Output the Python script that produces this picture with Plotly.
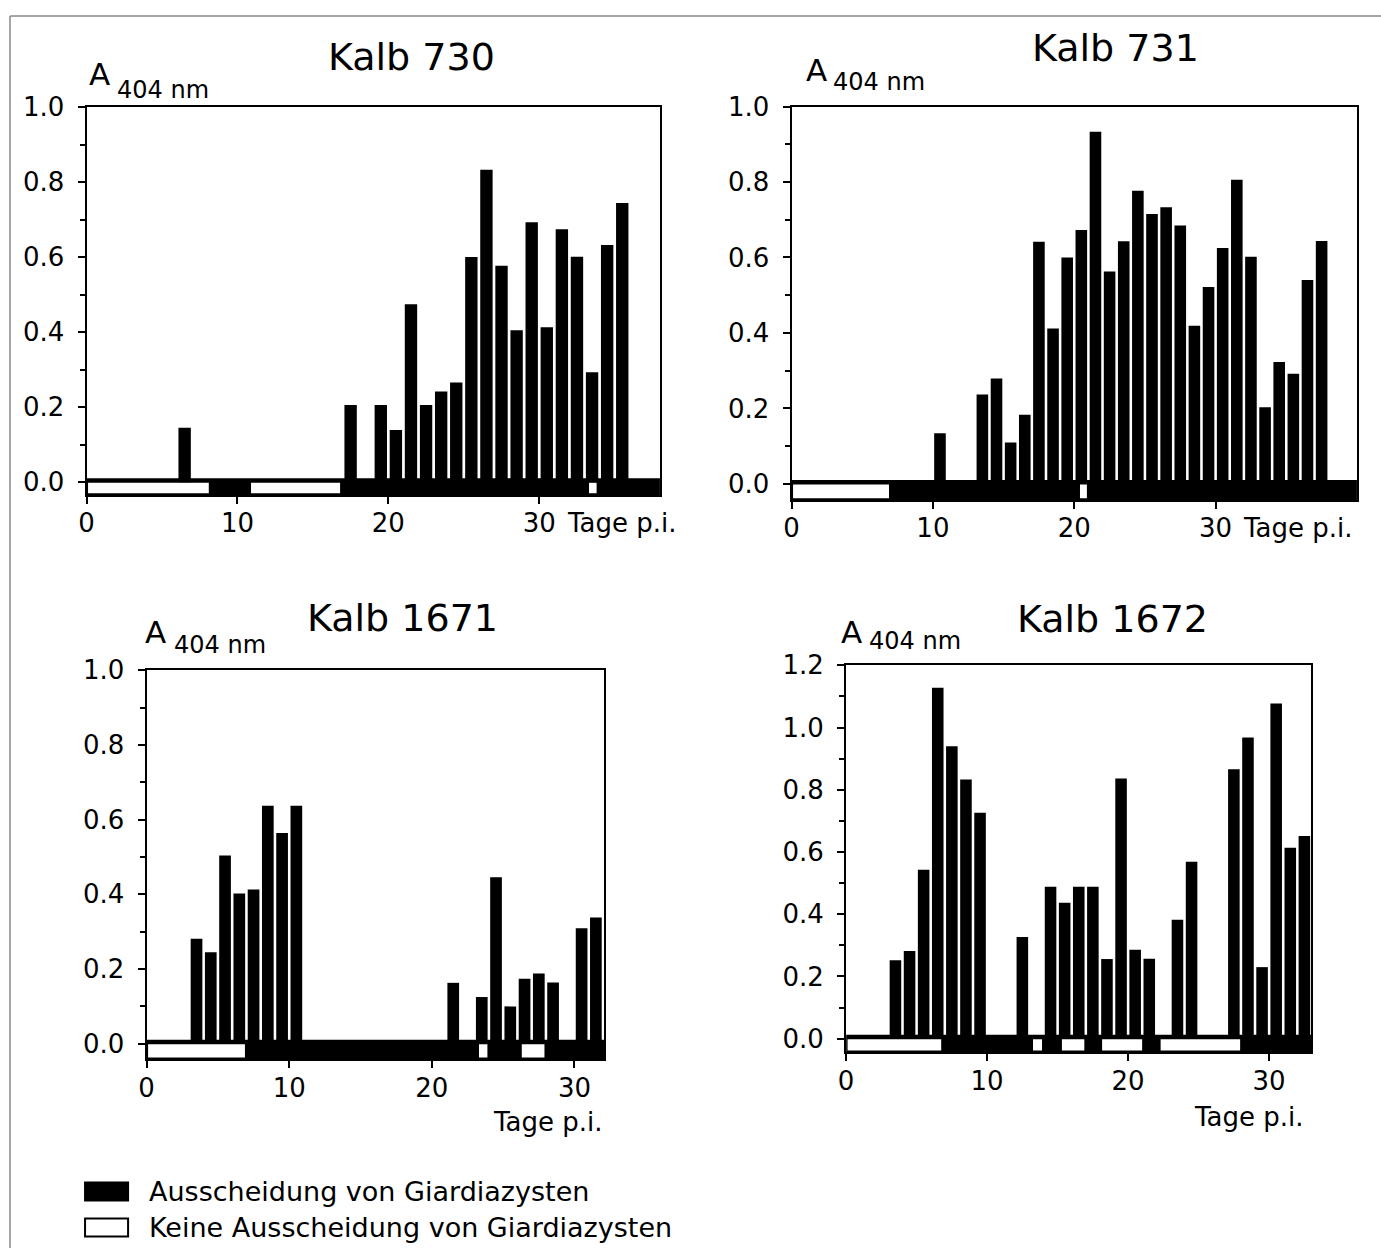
import numpy as np
import plotly.graph_objects as go

W, H = 1381, 1250
FONT = "DejaVu Sans"

# ---------------- data ----------------
titles = ["Kalb 730", "Kalb 731", "Kalb 1671", "Kalb 1672"]

k730_days = [7, 18, 20, 21, 22, 23, 24, 25, 26, 27, 28, 29, 30, 31, 32, 33, 34, 35, 36]
k730_vals = [0.145, 0.206, 0.206, 0.139, 0.474, 0.206, 0.242, 0.266, 0.600, 0.833,
             0.577, 0.405, 0.693, 0.413, 0.674, 0.601, 0.293, 0.632, 0.744]
k730_no_shedding = [(0, 8.2), (10.8, 16.9), (33.2, 33.9)]

k731_days = [11, 14, 15, 16, 17, 18, 19, 20, 21, 22, 23, 24, 25, 26, 27, 28, 29, 30,
             31, 32, 33, 34, 35, 36, 37, 38]
k731_vals = [0.134, 0.237, 0.279, 0.110, 0.183, 0.642, 0.412, 0.600, 0.673, 0.933,
             0.563, 0.643, 0.777, 0.715, 0.733, 0.685, 0.419, 0.522, 0.625, 0.806,
             0.602, 0.203, 0.323, 0.292, 0.540, 0.644]
k731_no_shedding = [(0, 7.0), (20.3, 21.0)]

k1671_days = [4, 5, 6, 7, 8, 9, 10, 11, 22, 24, 25, 26, 27, 28, 29, 31, 32]
k1671_vals = [0.281, 0.245, 0.504, 0.402, 0.413, 0.637, 0.564, 0.637, 0.163, 0.125,
              0.446, 0.100, 0.174, 0.188, 0.164, 0.309, 0.338]
k1671_no_shedding = [(0, 7.0), (23.2, 24.0), (26.2, 28.0)]

k1672_days = [4, 5, 6, 7, 8, 9, 10, 13, 15, 16, 17, 18, 19, 20, 21, 22, 24, 25, 28,
              29, 30, 31, 32, 33]
k1672_vals = [0.252, 0.282, 0.543, 1.128, 0.940, 0.833, 0.726, 0.327, 0.488, 0.437,
              0.488, 0.488, 0.256, 0.836, 0.286, 0.257, 0.382, 0.569, 0.866, 0.968,
              0.230, 1.077, 0.614, 0.651]
k1672_no_shedding = [(0, 6.85), (13.15, 14.0), (15.2, 17.0), (18.05, 21.1), (22.2, 28.05)]

x_tick_vals = [0, 10, 20, 30]
legend_labels = ["Ausscheidung von Giardiazysten", "Keine Ausscheidung von Giardiazysten"]

days_all = [k730_days, k731_days, k1671_days, k1672_days]
vals_all = [k730_vals, k731_vals, k1671_vals, k1672_vals]
none_all = [k730_no_shedding, k731_no_shedding, k1671_no_shedding, k1672_no_shedding]

# ---------------- layout geometry (target picture pixels) ----------------
panels = [
    dict(left=86.5, right=659.5, top=107, zero=482, bottom=495, ymax=1.0, xmax=38.0),
    dict(left=791, right=1356, top=106.5, zero=483.7, bottom=500, ymax=1.0, xmax=40.0),
    dict(left=146.5, right=604, top=670, zero=1043.3, bottom=1059, ymax=1.0, xmax=32.1),
    dict(left=845.5, right=1310.5, top=665, zero=1038.3, bottom=1052, ymax=1.2, xmax=33.0),
]
title_pos = [(411, 57), (1115, 48), (402, 618), (1112, 619)]
a_pos = [(87, 74, 115, 90), (803, 70, 830, 82), (143, 632, 172, 645), (838, 632, 866, 641)]
tage_pos = [(565, "left"), (1240, "left"), (605, "right"), (1305, "right")]
tage_y = [None, None, 1122, 1117]

# picture -> page pixel mapping (calibrated from a test render)
OX, SX, OY, SY = 8.0, 0.9935, 15.0, 0.986


def PX(x):
    return (x - OX) / SX


def PY(y):
    return (y - OY) / SY


def fx(x):
    return PX(x) / W


def fy(y):
    return 1 - PY(y) / H


fig = go.Figure()
layout = dict(
    width=W, height=H,
    margin=dict(l=0, r=0, t=0, b=0),
    paper_bgcolor="white", plot_bgcolor="white",
    barmode="overlay", showlegend=False,
    font=dict(family=FONT, color="black"),
)
annotations = []
shapes = []

TICKLEN_X = 7
for i, p in enumerate(panels):
    s = "" if i == 0 else str(i + 1)
    top, zero, bottom = PY(p["top"]), PY(p["zero"]), PY(p["bottom"])
    left, right = PX(p["left"]), PX(p["right"])
    ppu = (zero - top) / p["ymax"]
    ymin = -(bottom - zero) / ppu
    ppd = (right - left) / p["xmax"]

    major = np.round(np.arange(0, p["ymax"] + 0.001, 0.2), 1)
    minor = np.round(np.arange(0.1, p["ymax"], 0.2), 1)

    layout["xaxis" + s] = dict(
        domain=[left / W, right / W], range=[0, p["xmax"]],
        anchor="y" + s, showline=True, linewidth=2, linecolor="black", mirror=True,
        ticks="outside", ticklen=TICKLEN_X, tickwidth=2, tickcolor="black",
        tickvals=x_tick_vals, ticktext=[str(v) for v in x_tick_vals],
        ticklabelstandoff=-3,
        showgrid=False, zeroline=False, tickfont=dict(size=26, family=FONT),
        fixedrange=True,
    )
    layout["yaxis" + s] = dict(
        domain=[1 - bottom / H, 1 - top / H], range=[ymin, p["ymax"]],
        anchor="x" + s, showline=True, linewidth=2, linecolor="black", mirror=True,
        ticks="outside", ticklen=7, tickwidth=2, tickcolor="black",
        tickvals=list(major), ticktext=["%.1f" % v for v in major],
        ticklabelstandoff=8,
        minor=dict(tickvals=list(minor), ticks="outside", ticklen=5, tickwidth=2,
                   tickcolor="black", showgrid=False),
        showgrid=False, zeroline=False, tickfont=dict(size=26, family=FONT),
        fixedrange=True,
    )

    # shedding strip (black) with white boxes for days without cyst shedding
    black_top = 4 / ppu
    fig.add_trace(go.Bar(
        x=[p["xmax"] / 2], y=[black_top - ymin], base=[ymin], width=[p["xmax"]],
        marker=dict(color="black", line=dict(width=0)),
        xaxis="x" + s, yaxis="y" + s, hoverinfo="skip"))
    inset = 1.5 / ppd
    wb = ymin + 2.0 / ppu
    wt = -0.5 / ppu
    segs = none_all[i]
    fig.add_trace(go.Bar(
        x=[(a + b) / 2 for a, b in segs],
        y=[wt - wb for _ in segs], base=[wb for _ in segs],
        width=[(b - a) - 2 * inset for a, b in segs],
        marker=dict(color="white", line=dict(width=0)),
        xaxis="x" + s, yaxis="y" + s, hoverinfo="skip"))
    # absorbance bars
    fig.add_trace(go.Bar(
        x=days_all[i], y=vals_all[i], width=0.82, offset=-0.91,
        marker=dict(color="black", line=dict(width=0)),
        xaxis="x" + s, yaxis="y" + s))

    tx, ty = title_pos[i]
    annotations.append(dict(text=titles[i], x=fx(tx), y=fy(ty), xref="paper", yref="paper",
                            showarrow=False, xanchor="center", yanchor="middle",
                            font=dict(size=38, family=FONT)))
    ax, ay, nx, ny = a_pos[i]
    annotations.append(dict(text="A", x=fx(ax), y=fy(ay), xref="paper", yref="paper",
                            showarrow=False, xanchor="left", yanchor="middle",
                            font=dict(size=31, family=FONT)))
    annotations.append(dict(text="404 nm", x=fx(nx), y=fy(ny), xref="paper", yref="paper",
                            showarrow=False, xanchor="left", yanchor="middle",
                            font=dict(size=24, family=FONT)))
    gx, anc = tage_pos[i]
    if tage_y[i] is None:
        # same line as the x tick labels
        gy = 1 - (bottom + 28.5) / H
    else:
        gy = fy(tage_y[i])
    annotations.append(dict(text="Tage p.i.", x=fx(gx), y=gy, xref="paper", yref="paper",
                            showarrow=False, xanchor=anc, yanchor="middle",
                            font=dict(size=26, family=FONT)))

# legend
shapes.append(dict(type="rect", xref="paper", yref="paper",
                   x0=fx(85), x1=fx(128), y0=fy(1200), y1=fy(1182),
                   fillcolor="black", line=dict(color="black", width=2)))
shapes.append(dict(type="rect", xref="paper", yref="paper",
                   x0=fx(85), x1=fx(128), y0=fy(1236), y1=fy(1218),
                   fillcolor="white", line=dict(color="black", width=2)))
for lbl, ly in zip(legend_labels, [1191, 1227]):
    annotations.append(dict(text=lbl, x=fx(147), y=fy(ly), xref="paper", yref="paper",
                            showarrow=False, xanchor="left", yanchor="middle",
                            font=dict(size=27, family=FONT)))

# page frame (left and top edges)
shapes.append(dict(type="line", xref="paper", yref="paper", x0=fx(10), x1=fx(10),
                   y0=0, y1=1 - 1 / H, line=dict(color="#888", width=1.5)))
shapes.append(dict(type="line", xref="paper", yref="paper", x0=fx(10), x1=1,
                   y0=1 - 1 / H, y1=1 - 1 / H, line=dict(color="#888", width=1.5)))

layout["annotations"] = annotations
layout["shapes"] = shapes
fig.update_layout(**layout)
fig.write_html(
    "out.html",
    config={"displayModeBar": False},
    post_script="document.body.style.margin='0';document.body.style.overflow='hidden';",
)
